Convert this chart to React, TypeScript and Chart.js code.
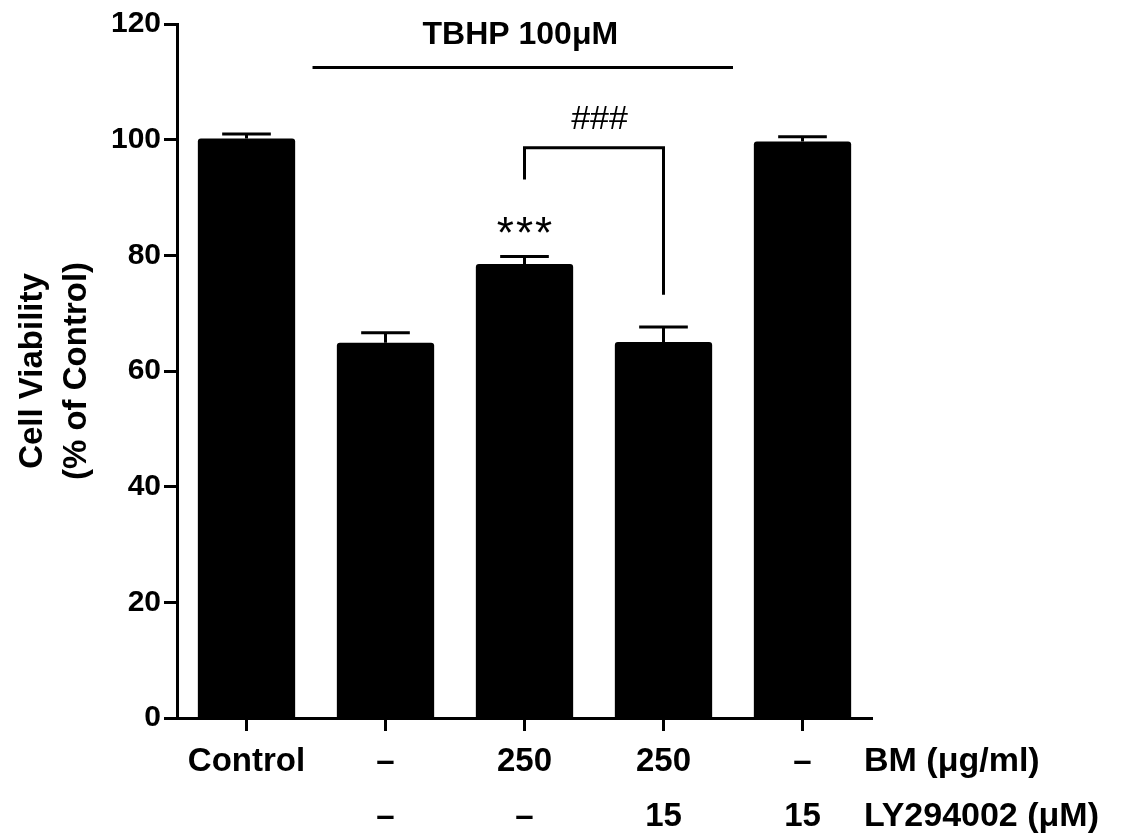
import React, { useEffect, useRef } from 'react';
import { Chart, registerables } from 'chart.js';

Chart.register(...registerables);

// ---- data ----
const bmLabels = ['Control', '–', '250', '250', '–'];
const lyLabels = ['', '–', '–', '15', '15'];
const viability = [100.2, 64.9, 78.5, 65.0, 99.7];
const sem = [0.8, 1.7, 1.3, 2.6, 0.8];
const yTicks = [0, 20, 40, 60, 80, 100, 120];
const rowTitles = ['BM (μg/ml)', 'LY294002 (μM)'];
const yTitle = ['Cell Viability', '(% of Control)'];
const treatmentText = 'TBHP 100μM';
const treatmentLine = { from: 0.475, to: 3.5, value: 112.5, textIndex: 1.97, textValue: 118 };
const starsText = '***';
const starsPos = { index: 2, value: 85.6 };
const hashText = '###';
const hashPos = { index: 2.54, value: 103.4 };
const bracket = { from: 2, to: 3, top: 98.6, leftEnd: 93.1, rightEnd: 73.2 };

const FONT = '"Liberation Sans", Arial, Helvetica, sans-serif';
const LABEL_LH = 55;
const TICK_LEN = 13;
const TICK_PAD = 3;

const annotations = {
  id: 'annotations',
  afterDatasetsDraw(chart: any) {
    const { ctx } = chart;
    const x = chart.scales.x;
    const y = chart.scales.y;
    const meta = chart.getDatasetMeta(0);
    ctx.save();
    ctx.strokeStyle = '#000';
    ctx.fillStyle = '#000';
    ctx.lineWidth = 3;
    ctx.lineCap = 'butt';
    // error bars (upper)
    meta.data.forEach((bar: any, i: number) => {
      const top = y.getPixelForValue(viability[i] + sem[i]);
      const half = bar.width * 0.25;
      ctx.beginPath();
      ctx.moveTo(bar.x, bar.y);
      ctx.lineTo(bar.x, top);
      ctx.moveTo(bar.x - half, top);
      ctx.lineTo(bar.x + half, top);
      ctx.stroke();
    });
    // treatment line + text
    const ly = y.getPixelForValue(treatmentLine.value);
    ctx.beginPath();
    ctx.moveTo(x.getPixelForValue(treatmentLine.from), ly);
    ctx.lineTo(x.getPixelForValue(treatmentLine.to), ly);
    ctx.stroke();
    ctx.font = `bold 32px ${FONT}`;
    ctx.textAlign = 'center';
    ctx.textBaseline = 'middle';
    ctx.fillText(treatmentText, x.getPixelForValue(treatmentLine.textIndex), y.getPixelForValue(treatmentLine.textValue));
    // bracket
    const bl = x.getPixelForValue(bracket.from);
    const br = x.getPixelForValue(bracket.to);
    const bt = y.getPixelForValue(bracket.top);
    ctx.beginPath();
    ctx.moveTo(bl, y.getPixelForValue(bracket.leftEnd));
    ctx.lineTo(bl, bt);
    ctx.lineTo(br, bt);
    ctx.lineTo(br, y.getPixelForValue(bracket.rightEnd));
    ctx.stroke();
    // ###
    ctx.font = `34px ${FONT}`;
    ctx.textBaseline = 'middle';
    ctx.fillText(hashText, x.getPixelForValue(hashPos.index), y.getPixelForValue(hashPos.value));
    // ***
    ctx.font = `44px ${FONT}`;
    (ctx as any).letterSpacing = '2px';
    ctx.textBaseline = 'alphabetic';
    ctx.fillText(starsText, x.getPixelForValue(starsPos.index) + 1, y.getPixelForValue(starsPos.value) + 25);
    (ctx as any).letterSpacing = '0px';
    // row titles
    ctx.font = `bold 34px ${FONT}`;
    ctx.textAlign = 'left';
    ctx.textBaseline = 'middle';
    rowTitles.forEach((t, i) => {
      ctx.fillText(t, x.right - 8, x.top + TICK_LEN + TICK_PAD + LABEL_LH / 2 + i * LABEL_LH);
    });
    ctx.restore();
  },
};

export default function App() {
  const ref = useRef<HTMLCanvasElement>(null);
  useEffect(() => {
    if (!ref.current) return;
    const chart = new Chart(ref.current, {
      type: 'bar',
      data: {
        labels: bmLabels.map((b, i) => [b, lyLabels[i]]),
        datasets: [
          {
            data: viability,
            backgroundColor: '#000',
            borderWidth: 0,
            borderRadius: 3,
            borderSkipped: 'bottom',
            barPercentage: 0.7,
            categoryPercentage: 1,
          },
        ],
      },
      options: {
        responsive: false,
        animation: false,
        layout: { padding: { top: 24, right: 270, bottom: 0, left: 0 } },
        plugins: { legend: { display: false }, tooltip: { enabled: false } },
        scales: {
          x: {
            offset: true,
            grid: {
              offset: false,
              drawOnChartArea: false,
              drawTicks: true,
              tickLength: TICK_LEN,
              tickWidth: 3,
              tickColor: '#000',
              color: '#000',
            },
            border: { display: true, color: '#000', width: 3 },
            ticks: {
              autoSkip: false,
              maxRotation: 0,
              minRotation: 0,
              padding: TICK_PAD,
              color: '#000',
              font: { family: FONT, size: 33, weight: 'bold', lineHeight: LABEL_LH / 33 },
            },
            afterFit: (s: any) => {
              s.height = 120;
            },
          },
          y: {
            min: 0,
            max: 120,
            afterBuildTicks: (s: any) => {
              s.ticks = yTicks.map((v) => ({ value: v }));
            },
            grid: {
              drawOnChartArea: false,
              drawTicks: true,
              tickLength: TICK_LEN,
              tickWidth: 3,
              tickColor: '#000',
              color: '#000',
            },
            border: { display: true, color: '#000', width: 3 },
            ticks: {
              padding: 3,
              color: '#000',
              font: { family: FONT, size: 30, weight: 'bold' },
            },
            title: {
              display: true,
              text: yTitle,
              color: '#000',
              padding: { top: 10, bottom: 0 },
              font: { family: FONT, size: 33, weight: 'bold', lineHeight: 1.36 },
            },
            afterFit: (s: any) => {
              s.width = 177;
            },
          },
        },
      },
      plugins: [annotations],
    });
    return () => chart.destroy();
  }, []);
  return (
    <div style={{ position: 'absolute', left: 0, top: 0, width: 1142, height: 838, background: '#fff' }}>
      <canvas ref={ref} width={1142} height={838} style={{ display: 'block' }} />
    </div>
  );
}
